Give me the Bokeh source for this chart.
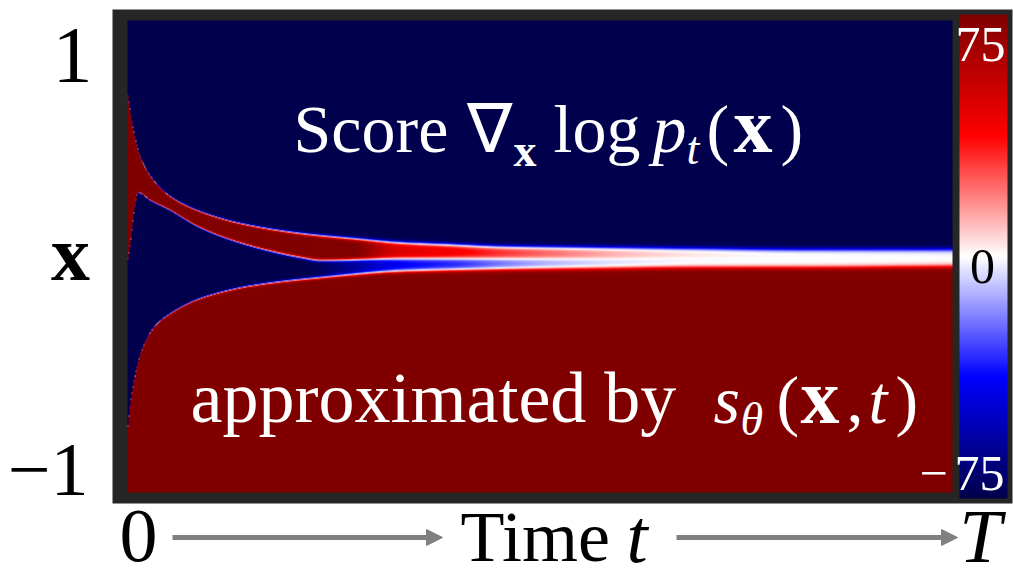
import numpy as np
from bokeh.plotting import figure
from bokeh.models import Arrow, NormalHead, LinearColorMapper
from bokeh.core.properties import value
from bokeh.embed import file_html
from bokeh.resources import INLINE

# ---------------- data ----------------
# x in [-1.2, 1.2] (vertical), t in units of T (horizontal)
# upper mode (blue above / red below)
m1_t = [0, 0.007, 0.016, 0.032, 0.052, 0.088, 0.137, 0.210, 0.270, 0.331, 0.392, 0.452, 0.573, 0.695, 0.816, 1.0]
m1_x = [0.834, 0.651, 0.503, 0.386, 0.305, 0.229, 0.168, 0.117, 0.092, 0.071, 0.061, 0.051, 0.046, 0.041, 0.036, 0.036]
# anti-mode (red above / blue below)
a_t = [0, 0.004, 0.008, 0.013, 0.028, 0.048, 0.088, 0.128, 0.170, 0.210, 0.234, 0.331, 0.452, 0.573, 0.695, 0.816, 1.0]
a_x = [-0.031, 0.081, 0.224, 0.325, 0.285, 0.244, 0.147, 0.081, 0.031, -0.005, -0.020, -0.010, -0.010, -0.010, -0.005, -0.005, -0.005]
# lower mode (blue above / red below)
m2_t = [0, 0.004, 0.016, 0.032, 0.052, 0.092, 0.153, 0.234, 0.331, 0.452, 0.573, 0.695, 0.816, 1.0]
m2_x = [-0.885, -0.732, -0.493, -0.361, -0.290, -0.208, -0.147, -0.107, -0.076, -0.066, -0.061, -0.056, -0.056, -0.051]
# transition width
w_t = [0, 0.1, 0.2, 0.33, 0.5, 1.0]
w_x = [0.0036, 0.005, 0.0076, 0.011, 0.013, 0.015]
# score level inside the red band and inside the blue band
lr_t = [0, 0.27, 0.33, 0.40, 0.45, 0.52, 0.60, 0.70, 0.80, 1.0]
lr_v = [75, 75, 48, 40, 32, 22, 12, 5, 2, 0]
lb_t = [0, 0.21, 0.27, 0.33, 0.40, 0.45, 0.52, 0.60, 0.70, 1.0]
lb_v = [75, 75, 60, 40, 32, 22, 12, 6, 2, 0]

score_low, score_high = -75, 75
cbar_labels = ["75", "0", "75"]
y_labels = ["1", "\u22121"]

# seismic colormap anchors
cmap_pos = [0.0, 0.25, 0.5, 0.75, 1.0]
cmap_rgb = [(0.0, 0.0, 0.3), (0.0, 0.0, 1.0), (1.0, 1.0, 1.0), (1.0, 0.0, 0.0), (0.5, 0.0, 0.0)]

# ---------------- build ----------------
W, H = 1013, 579
PX0, PX1 = 127, 952      # image left/right in pixels
PY_TOP, PY_BOT = 20, 492 # image top/bottom in pixels
XMAX = 1.2
kx = 1.0 / (PX1 - PX0)
ky = 2 * XMAX / (PY_BOT - PY_TOP)
PYC = (PY_TOP + PY_BOT) / 2


def X(px):
    return (px - PX0) * kx


def Y(py):
    return (PYC - py) * ky


def pchip(xk, yk, xq):
    xk = np.asarray(xk, float)
    yk = np.asarray(yk, float)
    h = np.diff(xk)
    d = np.diff(yk) / h
    n = len(xk)
    m = np.zeros(n)
    m[0], m[-1] = d[0], d[-1]
    for k in range(1, n - 1):
        if d[k - 1] * d[k] > 0:
            w1 = 2 * h[k] + h[k - 1]
            w2 = h[k] + 2 * h[k - 1]
            m[k] = (w1 + w2) / (w1 / d[k - 1] + w2 / d[k])
    idx = np.clip(np.searchsorted(xk, xq) - 1, 0, n - 2)
    s = (xq - xk[idx]) / h[idx]
    h00 = 2 * s**3 - 3 * s**2 + 1
    h10 = s**3 - 2 * s**2 + s
    h01 = -2 * s**3 + 3 * s**2
    h11 = s**3 - s**2
    return h00 * yk[idx] + h10 * h[idx] * m[idx] + h01 * yk[idx + 1] + h11 * h[idx] * m[idx + 1]


pos = np.linspace(0, 1, 256)
arr = np.array(cmap_rgb)
palette = []
for v in pos:
    r = np.interp(v, cmap_pos, arr[:, 0])
    g = np.interp(v, cmap_pos, arr[:, 1])
    b = np.interp(v, cmap_pos, arr[:, 2])
    palette.append("#%02x%02x%02x" % (int(round(r * 255)), int(round(g * 255)), int(round(b * 255))))
mapper = LinearColorMapper(palette=palette, low=score_low, high=score_high)

nx, ny = PX1 - PX0, PY_BOT - PY_TOP
tt = (np.arange(nx) + 0.5) / nx
xx = -XMAX + (np.arange(ny) + 0.5) * 2 * XMAX / ny
Xg = xx[:, None]
M1 = pchip(m1_t, m1_x, tt)[None, :]
A = pchip(a_t, a_x, tt)[None, :]
M2 = pchip(m2_t, m2_x, tt)[None, :]
Wd = pchip(w_t, w_x, tt)[None, :]
Lr = pchip(lr_t, lr_v, tt)[None, :]
Lb = pchip(lb_t, lb_v, tt)[None, :]


def S(b):
    return 0.5 * (1 + np.tanh((b - Xg) / Wd))


field = (score_low + (Lr - score_low) * S(M1) + (-Lb - Lr) * S(A) + (score_high + Lb) * S(M2)).astype(np.float32)

p = figure(width=W, height=H, x_range=(X(0), X(W)), y_range=(Y(H), Y(0)),
           output_backend="svg", toolbar_location=None, min_border=0,
           x_axis_type=None, y_axis_type=None)
p.grid.visible = False
p.outline_line_color = None
p.background_fill_color = "white"
p.border_fill_color = "white"

# dark frame
p.quad(left=X(112), right=X(1012), top=Y(9), bottom=Y(503), fill_color="#262626", line_color=None)

# score heatmap
p.image(image=[field], x=0, y=-XMAX, dw=1, dh=2 * XMAX, color_mapper=mapper)

# colour bar
cb = np.linspace(score_low, score_high, 484).astype(np.float32)[:, None]
p.image(image=[cb], x=X(959), y=Y(498), dw=X(1007) - X(959), dh=Y(14) - Y(498), color_mapper=mapper)

SERIF = value("Liberation Serif")
BASE_SHIFT = 0.35  # renderer puts the alphabetic baseline ~0.35em low


def txt(px, py, s, size, color="black", style="normal", align="left"):
    p.text(x=[X(px)], y=[Y(py - BASE_SHIFT * size)], text=[s], text_font=SERIF,
           text_font_size="%dpx" % size, text_color=color, text_font_style=style,
           text_align=align, text_baseline="alphabetic")


# colour bar labels
txt(980, 61, cbar_labels[0], 50, "white", align="center")
txt(982, 283, cbar_labels[1], 50, "black", align="center")
txt(1004, 490, cbar_labels[2], 50, "white", align="right")
txt(933, 490, "\u2212", 50, "white", align="center")

# y labels
txt(72, 83, y_labels[0], 80, align="center")
txt(88, 496, y_labels[1], 76, align="right")
txt(70, 280, "x", 78, style="bold", align="center")

# time axis
BY = 562
txt(138, BY, "0", 76, align="center")
txt(460, BY, "Time", 72)
txt(626, BY, "t", 76, style="italic")
txt(980, BY, "T", 76, style="italic", align="center")
gray = "#808080"
for xs, xe in [(172, 442), (676, 957)]:
    p.add_layout(Arrow(end=NormalHead(size=16, fill_color=gray, line_color=gray),
                       x_start=X(xs), y_start=Y(537), x_end=X(xe), y_end=Y(537),
                       line_width=5, line_color=gray))

# title inside
F = 68
txt(293, 152, "Score", F, "white")
txt(466, 152, "\u2207", F, "white")
txt(513, 166, "x", 46, "white", style="bold")
txt(553, 152, "log", F, "white")
txt(652, 152, "p", F, "white", style="italic")
txt(686, 164, "t", 46, "white", style="italic")
txt(706, 152, "(", F, "white")
txt(733, 152, "x", 78, "white", style="bold")
txt(780, 152, ")", F, "white")

txt(190, 423, "approximated by", 72, "white")
txt(713, 423, "s", F, "white", style="italic")
txt(740, 435, "\u03b8", 46, "white", style="italic")
txt(776, 423, "(", F, "white")
txt(800, 423, "x", 78, "white", style="bold")
txt(846, 423, ",", F, "white")
txt(868, 423, "t", F, "white", style="italic")
txt(895, 423, ")", F, "white")

open("out.html", "w").write(file_html(p, INLINE))
